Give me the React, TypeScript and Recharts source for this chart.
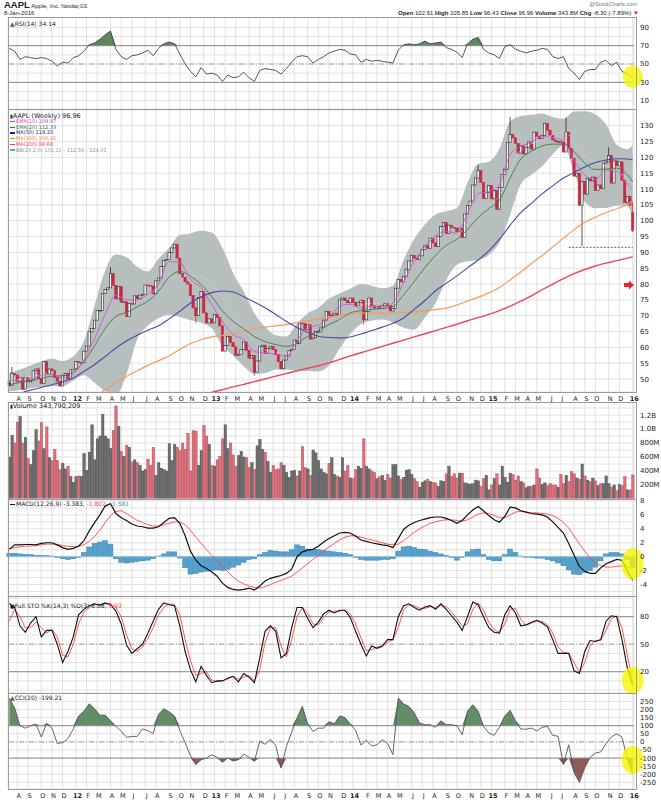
import React from 'react';
import {
  ComposedChart,
  Line,
  Area,
  Bar,
  XAxis,
  YAxis,
  CartesianGrid,
  ReferenceLine,
  ReferenceDot,
} from 'recharts';

// AAPL weekly, week ending 15-Jul-2011 (index 0) .. 8-Jan-2016 (index 234)
const closes = [
  47.9, 51.7, 51.3, 49.1, 50.4, 46.8, 50.4, 49.1, 49.6, 52.6,
  53.2, 50.1, 48.6, 55.5, 51.6, 53.2, 52.6, 50.5, 49.3, 47.8,
  51.2, 51.7, 50.0, 53.0, 53.2, 55.5, 55.2, 55.2, 58.8, 60.4,
  64.9, 66.0, 68.6, 71.7, 71.7, 77.0, 78.3, 78.8, 83.3, 79.6,
  75.3, 79.2, 74.3, 74.4, 69.7, 73.9, 73.7, 76.3, 75.4, 76.5,
  76.7, 79.7, 79.5, 79.4, 76.9, 81.0, 81.9, 85.5, 87.5, 87.8,
  89.9, 91.4, 92.6, 88.2, 83.3, 82.2, 80.7, 80.0, 76.4, 72.5,
  70.0, 75.8, 77.7, 70.9, 67.7, 69.0, 67.7, 70.4, 69.5, 66.8,
  58.8, 60.6, 63.5, 61.5, 60.2, 57.5, 57.7, 59.3, 61.7, 59.1,
  56.6, 57.4, 52.2, 55.7, 60.3, 60.7, 58.1, 59.7, 60.3, 59.3,
  57.7, 55.5, 53.2, 56.0, 57.3, 58.9, 59.3, 62.3, 61.2, 67.7,
  67.5, 65.6, 67.1, 62.6, 63.0, 65.0, 65.0, 66.4, 68.6, 71.4,
  70.1, 70.2, 70.8, 70.1, 75.0, 75.6, 74.8, 74.1, 75.6, 74.2,
  73.1, 74.1, 74.9, 68.7, 71.3, 75.6, 73.1, 72.4, 73.0, 72.2,
  73.3, 73.9, 73.2, 71.5, 72.3, 78.7, 81.5, 80.7, 82.4, 84.7,
  87.3, 89.1, 88.2, 87.8, 88.9, 90.9, 92.1, 91.3, 94.5, 93.0,
  91.8, 95.0, 98.2, 99.4, 96.0, 98.6, 97.9, 97.7, 96.6, 97.7,
  94.7, 102.1, 104.8, 106.2, 111.3, 113.5, 115.9, 112.1, 107.0, 109.0,
  111.1, 106.9, 109.5, 103.6, 110.5, 114.6, 116.3, 124.8, 127.2, 126.2,
  124.4, 121.4, 123.7, 121.1, 123.1, 124.9, 122.6, 128.0, 126.7, 125.9,
  127.0, 130.8, 128.6, 127.0, 125.5, 125.0, 125.1, 124.8, 121.7, 128.0,
  122.9, 119.8, 114.1, 115.0, 104.9, 112.4, 108.4, 113.3, 112.6, 113.8,
  109.5, 111.3, 110.2, 118.2, 118.6, 120.6, 111.9, 118.9, 117.4, 118.6,
  112.8, 105.7, 107.7, 104.9, 96.96,
];

// weekly volume, millions of shares
const volumes = [
  600, 910, 800, 1100, 1180, 800, 880, 580, 490, 690,
  990, 830, 1090, 720, 1030, 590, 550, 710, 550, 420,
  510, 430, 470, 320, 240, 320, 330, 320, 650, 410,
  670, 1060, 560, 860, 900, 1210, 900, 860, 720, 980,
  1330, 1040, 680, 610, 770, 740, 530, 560, 520, 480,
  400, 420, 570, 480, 740, 340, 520, 440, 420, 400,
  790, 550, 780, 740, 690, 800, 710, 940, 400, 980,
  970, 480, 690, 1050, 900, 780, 480, 470, 560, 610,
  860, 1060, 720, 800, 630, 470, 620, 680, 600, 590,
  450, 520, 420, 760, 850, 710, 670, 540, 380, 480,
  420, 430, 520, 480, 380, 310, 400, 410, 330, 400,
  750, 450, 430, 340, 700, 660, 550, 430, 380, 360,
  510, 590, 350, 330, 310, 590, 400, 480, 300, 290,
  420, 470, 440, 860, 470, 430, 400, 380, 290, 320,
  340, 270, 350, 300, 490, 490, 330, 280, 310, 410,
  420, 350, 290, 250, 170, 240, 260, 280, 250, 240,
  230, 180, 260, 250, 360, 470, 320, 360, 300, 370,
  370, 230, 220, 210, 220, 270, 260, 180, 290, 340,
  130, 200, 290, 360, 200, 470, 310, 240, 370, 350,
  270, 330, 250, 230, 160, 180, 180, 200, 430, 300,
  210, 230, 190, 220, 200, 200, 170, 350, 220, 340,
  250, 390, 360, 300, 280, 500, 330, 270, 250, 300,
  260, 190, 220, 220, 330, 220, 170, 200, 120, 210,
  190, 320, 130, 130, 343.8,
];

const firstOpen = 49.2;
// weeks with a visible wick, and the last week's real open
const wicks = [
  { i: 1, high: 53.8 },
  { i: 38, high: 85.3 },
  { i: 70, low: 67.6 },
  { i: 92, low: 51.0 },
  { i: 133, low: 67.2 },
  { i: 176, high: 117.6 },
  { i: 188, high: 132.8 },
  { i: 209, high: 132.6 },
  { i: 215, low: 92.0 },
  { i: 225, high: 123.2 },
  { i: 234, open: 102.61, high: 105.85, low: 96.43 },
];

// indicators read every 2nd week (index 0, 2, ... 234)
const rsi14 = [
  67, 64, 55, 58, 57, 56, 57, 56, 53, 48,
  52, 51, 57, 59, 64, 71, 73, 77, 82, 86,
  66, 58, 55, 59, 60, 62, 65, 59, 67, 72,
  74, 72, 61, 50, 42, 36, 46, 39, 40, 38,
  31, 38, 35, 36, 41, 35, 31, 43, 45, 44,
  43, 39, 45, 52, 58, 59, 58, 51, 55, 58,
  62, 64, 66, 65, 61, 60, 52, 55, 53, 54,
  53, 52, 51, 65, 71, 72, 71, 72, 75, 72,
  73, 74, 68, 66, 63, 57, 72, 77, 79, 66,
  62, 60, 56, 69, 71, 66, 64, 62, 64, 65,
  67, 66, 58, 56, 58, 45, 40, 33, 42, 44,
  44, 52, 54, 48, 52, 42, 39, 34.14,
];
const macdLine = [
  1.05, 1.7, 1.7, 1.75, 1.75, 1.7, 1.9, 2.0, 2.0, 1.7,
  1.3, 1.05, 1.2, 1.5, 2.3, 3.7, 4.9, 6.0, 7.3, 7.6,
  6.2, 5.6, 5.2, 4.7, 4.4, 4.3, 4.1, 4.1, 4.3, 4.9,
  5.5, 5.6, 4.8, 3.0, 0.8, -0.5, -1.3, -1.7, -2.2, -2.8,
  -3.8, -4.4, -4.7, -4.8, -4.7, -4.5, -4.8, -4.2, -3.5, -3.1,
  -2.9, -2.7, -2.4, -1.8, 0, 0.7, 0.95, 1.05, 1.5, 2.1,
  2.6, 3.0, 3.4, 3.5, 3.4, 2.95, 2.4, 2.2, 2.0, 1.85,
  1.7, 1.6, 1.3, 2.6, 3.9, 4.5, 4.9, 5.2, 5.4, 5.6,
  5.7, 5.7, 5.5, 5.2, 4.8, 5.2, 6.0, 6.7, 7.2, 6.6,
  5.9, 5.3, 4.95, 5.8, 7.1, 7.0, 6.6, 6.4, 6.2, 6.1,
  6.0, 5.7, 5.0, 4.2, 3.4, 1.9, 0.2, -1.4, -2.1, -2.4,
  -2.4, -1.6, -1.0, -0.7, -0.4, -0.5, -2.0, -3.383,
];
const macdSignal = [
  1.2, 1.3, 1.4, 1.5, 1.55, 1.6, 1.7, 1.8, 1.8, 1.75,
  1.6, 1.5, 1.45, 1.5, 1.7, 2.2, 2.9, 3.8, 4.9, 5.9,
  6.5, 6.6, 6.2, 5.7, 5.2, 4.9, 4.6, 4.4, 4.4, 4.6,
  4.8, 5.0, 5.0, 4.6, 3.8, 2.8, 1.9, 1.0, 0.2, -0.6,
  -1.4, -2.2, -2.9, -3.5, -3.9, -4.2, -4.4, -4.5, -4.3, -4.0,
  -3.7, -3.4, -3.1, -2.8, -2.2, -1.6, -1.0, -0.4, 0.2, 0.8,
  1.4, 1.9, 2.4, 2.8, 3.0, 3.0, 2.8, 2.6, 2.4, 2.2,
  2.0, 1.8, 1.7, 1.8, 2.3, 2.9, 3.5, 4.0, 4.4, 4.8,
  5.0, 5.2, 5.3, 5.3, 5.2, 5.1, 5.3, 5.7, 6.1, 6.3,
  6.2, 5.9, 5.6, 5.6, 6.0, 6.4, 6.5, 6.4, 6.3, 6.3,
  6.2, 6.1, 5.9, 5.5, 4.9, 4.1, 3.0, 1.8, 0.8, -0.2,
  -0.9, -1.3, -1.5, -1.5, -1.4, -1.3, -1.4, -1.802,
];
const macdHist = [
  0.5, 0.5, 0.4, 0.35, 0.3, 0.2, 0.2, 0.15, 0.1, -0.1,
  -0.3, -0.4, -0.3, 0.0, 0.6, 1.4, 1.9, 2.1, 2.3, 1.8,
  -0.3, -0.8, -0.9, -0.8, -0.7, -0.6, -0.5, -0.3, 0.1, 0.4,
  0.7, 0.7, -0.2, -1.6, -2.5, -2.4, -2.2, -2.1, -2.0, -1.9,
  -2.0, -1.8, -1.5, -1.2, -0.8, -0.4, -0.3, 0.3, 0.6, 0.9,
  0.8, 0.7, 0.7, 1.0, 1.7, 1.5, 1.1, 1.0, 1.0, 0.9,
  0.8, 0.7, 0.6, 0.5, 0.3, -0.1, -0.4, -0.5, -0.5, -0.5,
  -0.4, -0.4, -0.3, 0.8, 1.4, 1.5, 1.3, 1.1, 1.0, 0.8,
  0.6, 0.4, 0.2, -0.1, -0.5, -0.1, 0.7, 1.0, 1.1, 0.3,
  -0.4, -0.6, -0.6, 0.3, 1.1, 0.6, 0.1, 0.0, -0.1, -0.2,
  -0.2, -0.4, -0.6, -0.9, -1.3, -1.9, -2.5, -2.6, -2.3, -2.0,
  -1.5, -0.6, 0.4, 0.6, 0.6, 0.4, -0.4, -1.581,
];
const stoK = [
  94.5, 90, 70, 63, 73, 80, 58, 65, 65, 50,
  30, 42, 58, 82, 88, 92, 94, 92.5, 95, 93,
  86, 72, 49, 40, 45, 50, 62, 75, 88, 95,
  93, 92, 70, 42, 22, 9, 26, 16, 8, 10,
  10, 13, 15, 9, 18, 14, 8, 35, 64, 70,
  64, 35, 40, 68, 90, 90, 78, 68, 74, 83,
  87, 84, 87, 87, 79, 64, 50, 37, 48, 45.5,
  48, 55, 55, 80, 92, 94, 90, 87, 90.5, 92,
  88, 94, 88, 81, 74, 65, 80, 96, 93, 80,
  68, 63, 62, 82, 92, 84, 70, 71, 74, 76,
  73, 69, 55, 40, 40, 40, 21, 18, 42, 54,
  53, 55, 75, 81, 80, 55, 24, 6.08,
];
const stoD = [
  75, 88, 80, 68, 68, 74, 68, 62, 66, 58,
  38, 36, 50, 72, 85, 90, 93, 93, 94, 94,
  90, 80, 60, 45, 42, 47, 56, 68, 82, 90,
  94, 93, 82, 55, 32, 16, 18, 20, 11, 9,
  10, 12, 15, 12, 14, 16, 10, 22, 52, 68,
  68, 48, 36, 55, 80, 90, 84, 72, 71, 79,
  85, 86, 86, 87, 83, 72, 57, 43, 44, 47,
  47, 52, 55, 68, 87, 93, 92, 89, 89, 91,
  90, 92, 91, 85, 78, 70, 72, 88, 95, 87,
  74, 66, 63, 72, 88, 89, 77, 71, 73, 75,
  75, 71, 62, 47, 41, 40, 30, 19, 30, 48,
  54, 54, 65, 78, 81, 68, 38, 9.93,
];
const cci20 = [
  270, 209, 100, 85, 100, 110, 30, 115, 85, -10,
  -5, 20, 80, 160, 190, 235, 205, 165, 165, 130,
  96, 65, 28, 34, 34, 80, 70, 50, 170, 205,
  185, 160, 70, -5, -85, -140, -110, -100, -79, -95,
  -125, -100, -118, -110, -75, -95, -120, 5, -15, 15,
  -20, -162, -30, 60, 147, 220, 110, 65, 85, 85,
  125, 112, 160, 150, 110, 70, -20, 10, -25, -18,
  15, -10, -79, 271, 235, 219, 180, 117, 106, 106,
  90, 130, 106, 106, 100, 44, 190, 229, 190, 95,
  55, 40, 90, 160, 195, 130, 80, 78, 85, 67,
  90, 96, 40, 35, -140, -18, -190, -250, -160, -95,
  -69, -62, -10, 30, 50, 30, -105, -199.21,
];

// overlays read every 4th week (last value = final week)
const ema10 = [
  49.5, 49.4, 50.0, 51.2, 51.6, 50.2, 51.6, 56.0, 62.8, 70.5,
  76.5, 75.0, 75.0, 76.8, 80.0, 87.1, 86.8, 81.5, 78.8, 73.5,
  68.2, 64.0, 62.5, 58.7, 58.2, 58.0, 57.2, 61.9, 66.3, 67.0,
  69.6, 72.9, 73.6, 72.4, 73.0, 72.5, 74.0, 80.5, 87.3, 91.7,
  95.2, 96.6, 96.1, 102.4, 108.5, 109.2, 111.5, 121.0, 123.5, 124.8,
  126.6, 126.2, 125.3, 119.0, 114.5, 113.0, 116.0, 115.6, 111.5, 109.87,
];
const ema20 = [
  48.2, 48.9, 49.6, 50.2, 50.9, 51.0, 52.3, 55.5, 60.5, 66.0,
  69.8, 71.0, 72.8, 74.6, 77.8, 82.2, 84.0, 82.5, 79.8, 76.0,
  71.5, 68.2, 65.8, 63.4, 61.8, 60.9, 60.3, 61.3, 63.5, 65.3,
  67.2, 68.8, 70.9, 71.6, 72.0, 72.3, 73.0, 76.5, 80.8, 85.2,
  89.0, 92.2, 94.2, 97.2, 101.0, 103.8, 106.5, 113.5, 119.5, 122.0,
  123.6, 124.2, 124.2, 121.8, 118.2, 116.2, 116.3, 116.6, 114.5, 112.33,
];
const ma50Start = 4;
const ma50 = [
  45.5, 46.5, 47.3, 48.2, 49.1, 50.3, 52.4, 54.6, 57.1, 59.8,
  62.0, 63.8, 65.4, 66.8, 69.0, 71.4, 74.0, 76.0, 77.3, 77.8,
  77.5, 76.0, 74.3, 72.5, 70.4, 68.2, 66.3, 64.8, 63.5, 63.1,
  63.0, 63.3, 64.2, 65.3, 66.4, 67.6, 69.3, 72.0, 74.8, 77.9,
  80.2, 82.6, 85.1, 87.6, 90.5, 94.2, 98.6, 102.6, 105.5, 108.5,
  111.0, 113.5, 115.2, 117.0, 118.4, 119.2, 119.6, 119.5, 119.2,
];
const ma100Start = 32;
const ma100 = [
  44.5, 46.6, 48.8, 50.8, 52.6, 54.3, 55.8, 57.3, 59.3, 61.2,
  62.4, 63.3, 63.8, 64.4, 65.0, 65.8, 66.4, 66.8, 67.2, 67.8,
  68.4, 69.0, 69.4, 70.1, 70.6, 70.8, 70.8, 70.8, 70.9, 71.0,
  71.2, 71.5, 71.9, 72.4, 73.4, 74.6, 75.8, 77.2, 78.9, 81.3,
  83.8, 86.5, 89.0, 91.7, 94.5, 97.2, 99.5, 101.1, 102.6, 103.8,
  105.1, 106.26,
];
const ma200Start = 72;
const ma200 = [
  45.2, 45.8, 46.6, 47.5, 48.3, 49.2, 50.0, 50.9, 51.7, 52.6,
  53.4, 54.2, 55.1, 56.2, 57.3, 58.3, 59.3, 60.3, 61.3, 62.3,
  63.3, 64.3, 65.3, 66.3, 67.3, 68.4, 69.4, 70.4, 71.6, 73.0,
  74.6, 76.3, 78.2, 80.0, 81.7, 83.3, 84.6, 85.7, 86.6, 87.4,
  88.2, 88.68,
];
const bbUpper = [
  51.9, 53.0, 54.3, 55.6, 56.5, 55.7, 57.2, 62.0, 73.2, 84.3,
  89.3, 88.5, 85.5, 84.0, 88.0, 91.5, 95.5, 96.0, 96.8, 96.3,
  91.5, 83.5, 77.7, 70.8, 66.5, 63.8, 63.4, 67.5, 70.8, 72.4,
  75.4, 77.0, 78.5, 80.0, 79.5, 78.7, 79.5, 87.6, 94.2, 98.8,
  102.0, 103.0, 104.0, 112.0, 118.0, 118.6, 122.8, 131.4, 133.1, 133.5,
  133.9, 132.8, 132.2, 134.5, 134.6, 133.6, 130.5, 124.0, 122.6, 124.01,
];
const bbLower = [
  46.1, 46.5, 47.1, 47.5, 47.7, 47.7, 49.5, 51.2, 48.8, 46.1,
  45.0, 51.5, 62.5, 66.8, 69.2, 70.3, 69.6, 68.6, 67.8, 66.0,
  60.5, 57.4, 54.0, 51.6, 51.8, 53.0, 53.0, 52.6, 52.5, 52.4,
  54.3, 59.6, 64.2, 67.4, 68.4, 68.8, 67.8, 66.2, 65.6, 69.4,
  74.0, 81.2, 86.1, 87.2, 87.6, 89.2, 93.1, 101.9, 111.5, 114.5,
  117.2, 121.0, 123.8, 115.5, 106.0, 104.0, 104.0, 104.7, 104.6, 101.11,
];
// middle band, every 8th week
const bbMid = [
  49.0, 50.7, 52.1, 53.3, 61.0, 67.2, 74.0, 78.6, 82.5, 82.3,
  76.0, 65.8, 59.2, 58.2, 61.6, 64.8, 71.3, 74.0, 73.6, 79.9,
  88.0, 95.0, 102.8, 108.0, 122.3, 125.5, 128.0, 120.3, 117.2, 113.6,
  112.56,
];

const monthTicks = [
  3, 7, 12, 16, 20, 25, 29, 33, 38, 42, 46, 51, 55, 60, 64, 68, 73,
  77, 81, 85, 90, 94, 99, 103, 107, 112, 116, 120, 125,
  129, 134, 138, 142, 146, 151, 155, 159, 164, 168, 173, 177,
  181, 186, 190, 194, 198, 203, 207, 212, 216, 220, 225, 229, 234,
];
const monthLabels = [
  'A', 'S', 'O', 'N', 'D', '12', 'F', 'M', 'A', 'M', 'J', 'J', 'A', 'S', 'O', 'N', 'D',
  '13', 'F', 'M', 'A', 'M', 'J', 'J', 'A', 'S', 'O', 'N', 'D',
  '14', 'F', 'M', 'A', 'M', 'J', 'J', 'A', 'S', 'O', 'N', 'D',
  '15', 'F', 'M', 'A', 'M', 'J', 'J', 'A', 'S', 'O', 'N', 'D', '16',
];
const yearTicks = [25, 77, 129, 181, 234];

const LAST = closes.length - 1;

const rows: any[] = closes.map((c, i) => {
  const w: any = wicks.find((k) => k.i === i) || {};
  const o = w.open ?? (i === 0 ? firstOpen : closes[i - 1]);
  const lo = Math.min(o, c, w.low ?? Infinity);
  const hi = Math.max(o, c, w.high ?? -Infinity);
  return { i, o, c, lo, hi, range: [lo, hi], vol: volumes[i], down: i > 0 && c < closes[i - 1] };
});

const place = (key: string, vals: number[], start: number, step: number) => {
  vals.forEach((v, k) => {
    rows[Math.min(start + k * step, LAST)][key] = v;
  });
};
place('rsi', rsi14, 0, 2);
place('macd', macdLine, 0, 2);
place('signal', macdSignal, 0, 2);
place('hist', macdHist, 0, 2);
place('k', stoK, 0, 2);
place('d', stoD, 0, 2);
place('cci', cci20, 0, 2);
place('ema10', ema10, 0, 4);
place('ema20', ema20, 0, 4);
place('ma50', ma50, ma50Start, 4);
place('ma100', ma100, ma100Start, 4);
place('ma200', ma200, ma200Start, 4);
place('bbUp', bbUpper, 0, 4);
place('bbLo', bbLower, 0, 4);
place('bbMid', bbMid, 0, 8);

const FONT = 'DejaVu Sans, Verdana, sans-serif';
const W = 661;
const AXIS_W = 27;
const MARGIN = { top: 0, right: 0, bottom: 0, left: 8 };
const gridColor = '#e2e2e2';
const tickStyle = { fontSize: 7, fill: '#222', fontFamily: FONT };
const steps = (a: number, b: number, s: number) => {
  const out: number[] = [];
  for (let v = a; v <= b + 1e-9; v += s) out.push(Math.round(v * 100) / 100);
  return out;
};

const hiddenX = {
  dataKey: 'i',
  type: 'category' as const,
  scale: 'band' as const,
  ticks: monthTicks,
  interval: 0,
  hide: true,
};

const MonthTick = (p: any) => {
  const v = p.payload?.value;
  const k = monthTicks.indexOf(v);
  return (
    <text
      x={p.x + 1.5}
      y={p.y}
      dy={6.5}
      textAnchor="middle"
      fontSize={6.5}
      fontFamily={FONT}
      fontWeight={yearTicks.includes(v) ? 700 : 400}
      fill="#222"
    >
      {monthLabels[k] ?? ''}
    </text>
  );
};

const grid = () => <CartesianGrid stroke={gridColor} />;

const rightAxis = (domain: number[], ticks: number[], fmt?: (v: number) => string) => (
  <YAxis
    orientation="right"
    width={AXIS_W}
    domain={domain}
    allowDataOverflow
    ticks={ticks}
    interval={0}
    tickLine={false}
    axisLine={false}
    tickSize={0}
    tickMargin={6}
    tick={tickStyle}
    tickFormatter={fmt}
  />
);

const Candle = (p: any) => {
  const d = p.payload;
  if (!d || !isFinite(p.y) || !isFinite(p.height)) return <g />;
  const cx = p.x + p.width / 2;
  const span = d.hi - d.lo || 1;
  const py = (v: number) => p.y + ((d.hi - v) / span) * p.height;
  const top = py(Math.max(d.o, d.c));
  const bot = py(Math.min(d.o, d.c));
  const up = d.c >= d.o;
  const col = d.down ? '#c92a42' : '#2a2a2a';
  return (
    <g>
      <line x1={cx} x2={cx} y1={p.y} y2={p.y + p.height} stroke={col} strokeWidth={0.8} />
      <rect
        x={cx - 1.15}
        y={top}
        width={2.3}
        height={Math.max(bot - top, 0.8)}
        fill={up ? '#eef0f0' : col}
        stroke={col}
        strokeWidth={0.6}
      />
    </g>
  );
};

const VolBar = (p: any) => {
  if (!p.payload || !isFinite(p.height)) return <g />;
  const down = p.payload.down;
  return (
    <rect
      x={p.x + 0.25}
      y={p.y}
      width={Math.max(p.width - 0.5, 0.8)}
      height={Math.max(p.height, 0)}
      fill={down ? '#d9727c' : '#707070'}
      stroke={down ? '#b3404e' : '#424242'}
      strokeWidth={0.4}
    />
  );
};

const HistBar = (p: any) => {
  if (!p.payload || p.payload.hist == null || !isFinite(p.y) || !isFinite(p.height)) return <g />;
  const cx = p.x + p.width / 2;
  const top = Math.min(p.y, p.y + p.height);
  return (
    <rect
      x={cx - 2.4}
      y={top}
      width={4.8}
      height={Math.max(Math.abs(p.height), 0.5)}
      fill="#56a2cf"
      stroke="#3380ad"
      strokeWidth={0.5}
    />
  );
};

const ellipse = (rx: number, ry: number) => (p: any) => (
  <ellipse cx={p.cx} cy={p.cy} rx={rx} ry={ry} fill="#f5f500" fillOpacity={0.8} stroke="none" />
);

const Arrow = (p: any) => {
  const { cx, cy } = p;
  const pts = [
    [cx - 6, cy - 2], [cx - 1, cy - 2], [cx - 1, cy - 4.5], [cx + 4, cy],
    [cx - 1, cy + 4.5], [cx - 1, cy + 2], [cx - 6, cy + 2],
  ].map((q) => q.join(',')).join(' ');
  return <polygon points={pts} fill="#e8232f" />;
};

const range = (a: string, b: string) => (d: any) =>
  d[a] == null || d[b] == null ? [null, null] : [d[a], d[b]];

const Frame = ({ top, bottom }: { top: number; bottom: number }) => (
  <div
    style={{
      position: 'absolute',
      left: 8,
      top,
      width: 629,
      height: bottom - top,
      border: '1px solid #9a9a9a',
      boxSizing: 'border-box',
      pointerEvents: 'none',
    }}
  />
);

const Dash = ({ color }: { color: string }) => (
  <span
    style={{
      display: 'inline-block',
      width: 5,
      height: 1.5,
      background: color,
      verticalAlign: 'middle',
      marginRight: 1,
    }}
  />
);

const legendLines = [
  { color: '#e02ce0', text: 'EMA(10) 109.87' },
  { color: '#2f7a2f', text: 'EMA(20) 112.33' },
  { color: '#22228e', text: 'MA(50) 119.20' },
  { color: '#ff7f2a', text: 'MA(100) 106.26' },
  { color: '#ee3b4b', text: 'MA(200) 88.68' },
  { color: '#8c9595', text: 'BB(20,2.0) 101.11 - 112.56 - 124.01' },
];

const lbl = (top: number, left = 10): React.CSSProperties => ({
  position: 'absolute',
  left,
  top,
  fontSize: 6,
  lineHeight: '7px',
  color: '#222',
  whiteSpace: 'nowrap',
  fontFamily: FONT,
});

const App = () => {
  return (
    <div
      style={{
        position: 'absolute',
        left: 0,
        top: 0,
        width: W,
        height: 800,
        background: '#fff',
        overflow: 'hidden',
        fontFamily: FONT,
      }}
    >
      {/* header */}
      <div style={{ position: 'absolute', left: 4, top: 0, fontSize: 6, lineHeight: '10px', whiteSpace: 'nowrap', fontFamily: 'Liberation Sans, Arial, sans-serif', color: '#222' }}>
        <b style={{ fontSize: 9.5 }}>AAPL</b> Apple, Inc. <span style={{ fontSize: 5 }}>Nasdaq GS</span>
      </div>
      <div style={{ position: 'absolute', left: 4, top: 9.5, fontSize: 6, lineHeight: '7px', fontFamily: 'Liberation Sans, Arial, sans-serif', color: '#222' }}>
        8-Jan-2016
      </div>
      <div style={{ position: 'absolute', right: 24, top: 1, fontSize: 5.5, lineHeight: '7px', fontFamily: 'Liberation Sans, Arial, sans-serif', color: '#777' }}>
        @StockCharts.com
      </div>
      <div style={{ position: 'absolute', right: 22, top: 9.5, fontSize: 6, lineHeight: '7px', whiteSpace: 'nowrap', fontFamily: 'Liberation Sans, Arial, sans-serif', color: '#222' }}>
        <b>Open</b> 102.61 <b>High</b> 105.85 <b>Low</b> 96.43 <b>Close</b> 96.96 <b>Volume</b> 343.8M <b>Chg</b> -8.30 (-7.89%) <span style={{ color: '#e0202a' }}>▼</span>
      </div>

      {/* RSI */}
      <div style={{ position: 'absolute', left: 0, top: 17 }}>
        <ComposedChart width={W} height={92} data={rows} margin={MARGIN}>
          {grid()}
          <XAxis {...hiddenX} />
          {rightAxis([0.9, 101.3], steps(10, 90, 10), (v) => (v % 20 === 10 ? String(v) : ''))}
          <ReferenceLine y={70} stroke="#8c8c8c" />
          <ReferenceLine y={30} stroke="#8c8c8c" />
          <ReferenceLine y={50} stroke="#a0a0a0" strokeDasharray="5 2 1 2" />
          <Area
            dataKey={(d: any) => (d.rsi == null ? [null, null] : [70, Math.max(70, d.rsi)])}
            type="linear"
            fill="#5d875d"
            fillOpacity={1}
            stroke="none"
            connectNulls
            isAnimationActive={false}
          />
          <ReferenceDot x={234} y={36} r={11} shape={ellipse(10, 11)} />
          <Line dataKey="rsi" stroke="#444" strokeWidth={0.9} dot={false} connectNulls isAnimationActive={false} />
        </ComposedChart>
      </div>

      {/* price */}
      <div style={{ position: 'absolute', left: 0, top: 109 }}>
        <ComposedChart width={W} height={293} data={rows} margin={MARGIN}>
          {grid()}
          <XAxis
            dataKey="i"
            type="category"
            scale="band"
            ticks={monthTicks}
            interval={0}
            height={10}
            tickLine={false}
            axisLine={false}
            tickSize={0}
            tick={MonthTick}
          />
          {rightAxis([45.9, 135.3], steps(50, 135, 5), (v) => (v <= 130 ? String(v) : ''))}
          <Area
            dataKey={range('bbLo', 'bbUp')}
            type="monotone"
            fill="#b3bbbb"
            fillOpacity={0.95}
            stroke="none"
            connectNulls
            isAnimationActive={false}
          />
          <Line dataKey="bbMid" type="monotone" stroke="#d6dada" strokeWidth={0.8} strokeDasharray="2 2" dot={false} connectNulls isAnimationActive={false} />
          <Bar dataKey="range" shape={Candle} isAnimationActive={false} />
          <Line dataKey="ma200" type="monotone" stroke="#ec4658" strokeWidth={1.4} dot={false} connectNulls isAnimationActive={false} />
          <Line dataKey="ma100" type="monotone" stroke="#f7995a" strokeWidth={1.2} dot={false} connectNulls isAnimationActive={false} />
          <Line dataKey="ma50" type="monotone" stroke="#4a4aa2" strokeWidth={1.1} dot={false} connectNulls isAnimationActive={false} />
          <Line dataKey="ema20" type="monotone" stroke="#3f7a3f" strokeWidth={0.9} dot={false} connectNulls isAnimationActive={false} />
          <Line dataKey="ema10" type="monotone" stroke="#d653d6" strokeWidth={0.9} dot={false} connectNulls isAnimationActive={false} />
          <ReferenceLine
            segment={[{ x: 210, y: 91.6 }, { x: 234, y: 91.6 }]}
            stroke="#2e8a2e"
            strokeDasharray="2 1.5"
            strokeWidth={1}
          />
          <ReferenceDot x={233} y={79.7} r={5} shape={Arrow} />
        </ComposedChart>
      </div>

      {/* volume */}
      <div style={{ position: 'absolute', left: 0, top: 402 }}>
        <ComposedChart width={W} height={97} data={rows} margin={MARGIN} barCategoryGap={0}>
          {grid()}
          <XAxis {...hiddenX} />
          {rightAxis([0, 1386], steps(100, 1300, 100), (v) =>
            v % 200 !== 0 ? '' : v >= 1000 ? (v / 1000).toFixed(1) + 'B' : v + 'M'
          )}
          <Bar dataKey="vol" shape={VolBar} isAnimationActive={false} />
        </ComposedChart>
      </div>

      {/* MACD: svg starts 5px above the panel so the top label is not clipped */}
      <div style={{ position: 'absolute', left: 0, top: 494 }}>
        <ComposedChart width={W} height={102} data={rows} margin={{ ...MARGIN, top: 5 }}>
          {grid()}
          <XAxis {...hiddenX} />
          {rightAxis([-5.64, 8.28], steps(-5, 8, 1), (v) => (Math.abs(v) % 2 === 0 ? String(v) : ''))}
          <ReferenceLine y={0} stroke="#9cc6e0" />
          <Bar dataKey="hist" shape={HistBar} isAnimationActive={false} />
          <ReferenceDot x={234} y={-1} r={12} shape={ellipse(11, 16)} />
          <Line dataKey="signal" stroke="#ff4545" strokeWidth={0.9} dot={false} connectNulls isAnimationActive={false} />
          <Line dataKey="macd" stroke="#111" strokeWidth={1.2} dot={false} connectNulls isAnimationActive={false} />
        </ComposedChart>
      </div>

      {/* Full STO */}
      <div style={{ position: 'absolute', left: 0, top: 596 }}>
        <ComposedChart width={W} height={97} data={rows} margin={MARGIN}>
          {grid()}
          <XAxis {...hiddenX} />
          {rightAxis([-3.2, 102.5], steps(0, 100, 10), (v) => (v === 20 || v === 50 || v === 80 ? String(v) : ''))}
          <ReferenceLine y={80} stroke="#8c8c8c" />
          <ReferenceLine y={20} stroke="#8c8c8c" />
          <ReferenceLine y={50} stroke="#a0a0a0" strokeDasharray="5 2 1 2" />
          <ReferenceDot x={234} y={10.6} r={12} shape={ellipse(11, 13.5)} />
          <Line dataKey="d" stroke="#ff4545" strokeWidth={0.9} dot={false} connectNulls isAnimationActive={false} />
          <Line dataKey="k" stroke="#111" strokeWidth={1.1} dot={false} connectNulls isAnimationActive={false} />
        </ComposedChart>
      </div>

      {/* CCI */}
      <div style={{ position: 'absolute', left: 0, top: 693 }}>
        <ComposedChart width={W} height={107} data={rows} margin={MARGIN}>
          {grid()}
          <XAxis
            dataKey="i"
            type="category"
            scale="band"
            ticks={monthTicks}
            interval={0}
            height={11}
            tickLine={false}
            axisLine={false}
            tickSize={0}
            tick={MonthTick}
          />
          {rightAxis([-291, 302], steps(-250, 300, 50), (v) => (v <= 250 ? String(v) : ''))}
          <ReferenceLine y={100} stroke="#8c8c8c" />
          <ReferenceLine y={-100} stroke="#8c8c8c" />
          <ReferenceLine y={0} stroke="#a0a0a0" strokeDasharray="5 2 1 2" />
          <Area
            dataKey={(d: any) => (d.cci == null ? [null, null] : [100, Math.max(100, d.cci)])}
            type="linear"
            fill="#628d66"
            fillOpacity={1}
            stroke="none"
            connectNulls
            isAnimationActive={false}
          />
          <Area
            dataKey={(d: any) => (d.cci == null ? [null, null] : [Math.min(-100, d.cci), -100])}
            type="linear"
            fill="#8e5b57"
            fillOpacity={1}
            stroke="none"
            connectNulls
            isAnimationActive={false}
          />
          <ReferenceDot x={234} y={-112} r={12} shape={ellipse(11, 14)} />
          <Line dataKey="cci" stroke="#555" strokeWidth={0.9} dot={false} connectNulls isAnimationActive={false} />
        </ComposedChart>
      </div>

      <Frame top={17} bottom={110} />
      <Frame top={109} bottom={393} />
      <Frame top={402} bottom={500} />
      <Frame top={499} bottom={597} />
      <Frame top={596} bottom={694} />
      <Frame top={693} bottom={790} />

      {/* panel labels */}
      <div style={lbl(19.5)}>
        <span style={{ color: '#3d6b3d' }}>▲</span>RSI(14) 34.14
      </div>
      <div style={{ ...lbl(112.5), fontSize: 6.5 }}>
        <span style={{ fontSize: 5 }}>▮</span>AAPL (Weekly) 96.96
      </div>
      {legendLines.map((l, k) => (
        <div key={l.text} style={{ ...lbl(119 + k * 5.7), fontSize: 5, lineHeight: '5.7px', color: l.color }}>
          <Dash color={l.color} />
          {l.text}
        </div>
      ))}
      <div style={{ ...lbl(403), fontSize: 6.5 }}>
        <span style={{ fontSize: 5 }}>▮</span>Volume 343,790,209
      </div>
      <div style={lbl(500)}>
        <Dash color="#111" />MACD(12,26,9) -3.383, <span style={{ color: '#ff4545' }}>-1.802</span>,{' '}
        <span style={{ color: '#4e9bc9' }}>-1.581</span>
      </div>
      <div style={lbl(601.5)}>
        <span style={{ fontSize: 5 }}>■</span>Full STO %K(14,3) %D(3) 6.08, <span style={{ color: '#ff4545' }}>9.93</span>
      </div>
      <div style={lbl(694)}>
        <span style={{ color: '#3d6b3d' }}>▲</span>CCI(20) -199.21
      </div>
    </div>
  );
};

export default App;
